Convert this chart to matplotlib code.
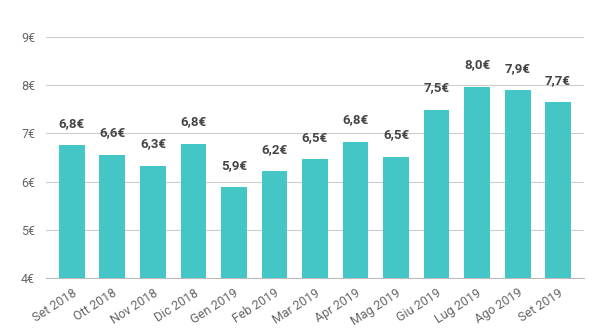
import matplotlib.pyplot as plt
from matplotlib.transforms import ScaledTranslation

months = ["Set 2018", "Ott 2018", "Nov 2018", "Dic 2018", "Gen 2019", "Feb 2019",
          "Mar 2019", "Apr 2019", "Mag 2019", "Giu 2019", "Lug 2019", "Ago 2019", "Set 2019"]
values = [6.75, 6.56, 6.33, 6.79, 5.88, 6.22, 6.46, 6.83, 6.52, 7.49, 7.97, 7.90, 7.65]
yticks = [4, 5, 6, 7, 8, 9]

plt.rcParams.update({"font.family": ["Roboto", "DejaVu Sans"], "font.size": 9})

fig = plt.figure(figsize=(6.05, 3.36), dpi=100)
ax = fig.add_axes([46/605, 1-278/336, (584-46)/605, (278-37)/336])

x = range(len(months))
ax.bar(x, values, width=0.64, color="#45C6C6", zorder=3)
for i, v in zip(x, values):
    ax.annotate(f"{v:.1f}€".replace(".", ","), (i, v), xytext=(0, 11),
                textcoords="offset points", ha="center", va="bottom",
                fontsize=9.5, fontweight="bold", color="#444444")

ax.set_ylim(4, 9)
ax.set_xlim(-0.64, len(months) - 0.36)
ax.set_yticks(yticks)
ax.set_yticklabels([f"{t}€" for t in yticks])
ax.set_xticks(list(x))
ax.set_xticklabels(months, rotation=33, ha="right", rotation_mode="anchor")
shift = ScaledTranslation(6/100, 0, fig.dpi_scale_trans)
for lbl in ax.get_xticklabels():
    lbl.set_transform(lbl.get_transform() + shift)
ax.grid(axis="y", color="#cccccc", lw=0.8, zorder=0)
for s in ("top", "right", "left"):
    ax.spines[s].set_visible(False)
ax.spines["bottom"].set_color("#bbbbbb")
ax.tick_params(length=0, colors="#666666", labelsize=9)
ax.tick_params(axis="y", pad=8)
ax.tick_params(axis="x", pad=6)

fig.savefig("out.png", dpi=100)
